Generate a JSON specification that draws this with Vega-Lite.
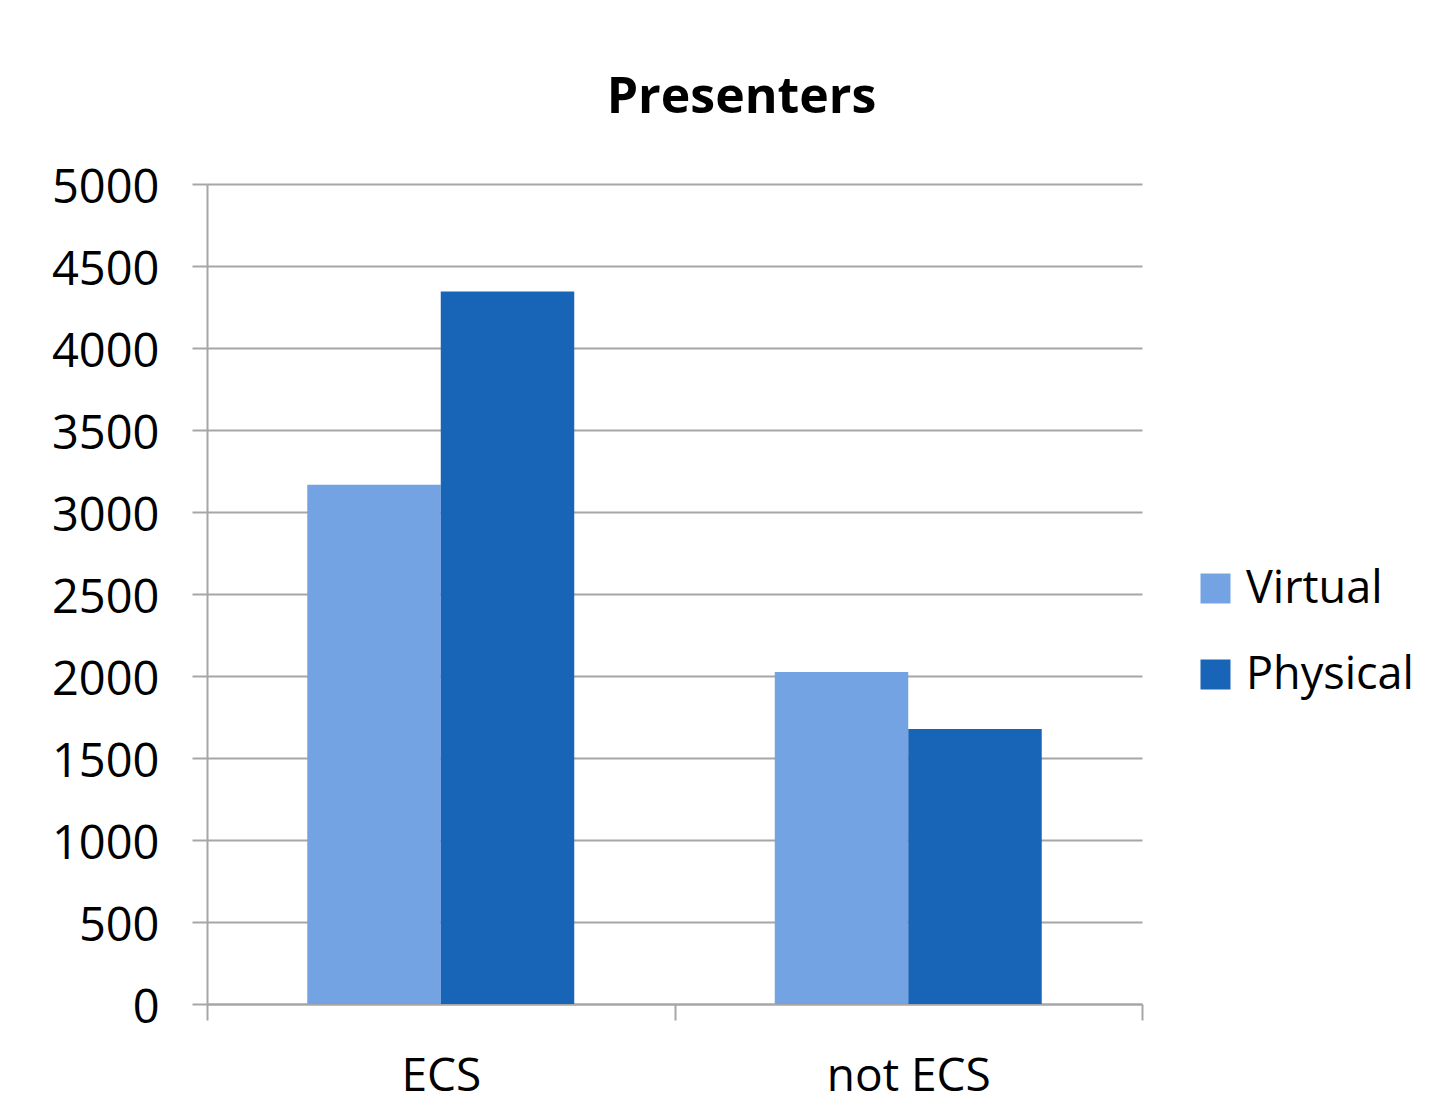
{
  "$schema": "https://vega.github.io/schema/vega-lite/v6.json",
  "width": 935,
  "height": 820,
  "autosize": {"type": "none"},
  "padding": {"left": 207, "top": 184, "right": 297, "bottom": 102},
  "background": "white",
  "title": {
    "text": "Presenters",
    "font": "Open Sans",
    "fontSize": 50,
    "fontWeight": "bold",
    "color": "black",
    "anchor": "middle",
    "dx": 67,
    "baseline": "alphabetic",
    "offset": 1
  },
  "data": {
    "values": [
      {"group": "ECS", "type": "Virtual", "value": 3166},
      {"group": "ECS", "type": "Physical", "value": 4345},
      {"group": "not ECS", "type": "Virtual", "value": 2024},
      {"group": "not ECS", "type": "Physical", "value": 1677}
    ]
  },
  "mark": {"type": "bar"},
  "encoding": {
    "x": {
      "field": "group",
      "type": "nominal",
      "sort": ["ECS", "not ECS"],
      "scale": {"paddingInner": 0, "paddingOuter": 0},
      "axis": {
        "title": null,
        "labelAngle": 0,
        "labelFont": "Open Sans",
        "labelFontSize": 46,
        "labelColor": "black",
        "tickBand": "extent",
        "tickSize": 16,
        "tickColor": "#a6a6a6",
        "tickWidth": 2,
        "domainColor": "#a6a6a6",
        "domainWidth": 2,
        "labelPadding": 34,
        "grid": false
      }
    },
    "xOffset": {
      "field": "type",
      "type": "nominal",
      "sort": ["Virtual", "Physical"],
      "scale": {"paddingInner": 0, "paddingOuter": 0.751}
    },
    "y": {
      "field": "value",
      "type": "quantitative",
      "scale": {"domain": [0, 5000], "nice": false},
      "axis": {
        "title": null,
        "format": "d",
        "values": [0, 500, 1000, 1500, 2000, 2500, 3000, 3500, 4000, 4500, 5000],
        "labelFont": "Open Sans",
        "labelFontSize": 47,
        "labelColor": "black",
        "labelOffset": 4,
        "tickSize": 15,
        "tickColor": "#a6a6a6",
        "tickWidth": 2,
        "labelPadding": 33,
        "domainColor": "#a6a6a6",
        "domainWidth": 2,
        "grid": true,
        "gridColor": "#a6a6a6",
        "gridWidth": 2
      }
    },
    "color": {
      "field": "type",
      "type": "nominal",
      "sort": ["Virtual", "Physical"],
      "scale": {"domain": ["Virtual", "Physical"], "range": ["#74a3e4", "#1865b8"]},
      "legend": {
        "title": null,
        "orient": "none",
        "legendX": 986,
        "legendY": 382,
        "padding": 0,
        "symbolType": "square",
        "symbolSize": 900,
        "symbolStrokeWidth": 0,
        "symbolOpacity": 1,
        "labelFont": "Open Sans",
        "labelFontSize": 45,
        "labelColor": "black",
        "labelOffset": 8,
        "labelLimit": 0,
        "rowPadding": 40
      }
    }
  },
  "config": {
    "view": {"stroke": null}
  }
}
